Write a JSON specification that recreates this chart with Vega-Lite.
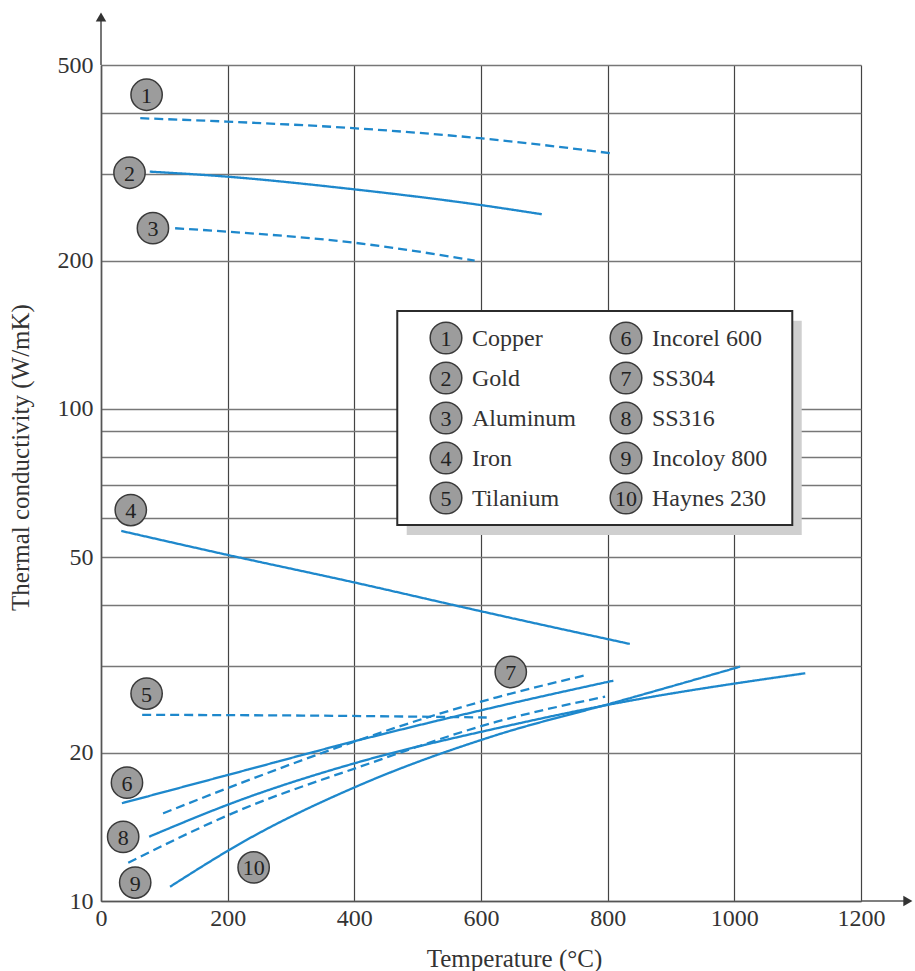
{
  "$schema": "https://vega.github.io/schema/vega-lite/v6.json",
  "width": 760,
  "height": 836,
  "autosize": {"type": "none"},
  "padding": {"left": 101, "top": 65, "right": 54, "bottom": 70},
  "background": "white",
  "config": {
    "font": "Liberation Serif",
    "view": {"stroke": null},
    "axis": {
      "labelFont": "Liberation Serif",
      "labelFontSize": 24,
      "labelColor": "#333",
      "titleFont": "Liberation Serif",
      "titleFontSize": 25,
      "titleFontWeight": "normal",
      "titleColor": "#333",
      "domainColor": "#555",
      "domainWidth": 1.6,
      "ticks": false,
      "labelFlush": false,
      "labelOverlap": false
    }
  },
  "datasets": {
    "curves": [
      {"m": "Copper", "T": 62, "k": 389.8},
      {"m": "Copper", "T": 198, "k": 383.7},
      {"m": "Copper", "T": 398, "k": 372.1},
      {"m": "Copper", "T": 598, "k": 355.0},
      {"m": "Copper", "T": 804, "k": 331.0},
      {"m": "Gold", "T": 77, "k": 303.6},
      {"m": "Gold", "T": 198, "k": 296.6},
      {"m": "Gold", "T": 398, "k": 279.6},
      {"m": "Gold", "T": 598, "k": 259.8},
      {"m": "Gold", "T": 696, "k": 248.7},
      {"m": "Aluminum", "T": 117, "k": 232.9},
      {"m": "Aluminum", "T": 198, "k": 229.3},
      {"m": "Aluminum", "T": 398, "k": 217.8},
      {"m": "Aluminum", "T": 590, "k": 200.2},
      {"m": "Iron", "T": 32, "k": 56.5},
      {"m": "Iron", "T": 200, "k": 50.5},
      {"m": "Iron", "T": 400, "k": 44.4},
      {"m": "Iron", "T": 600, "k": 38.8},
      {"m": "Iron", "T": 835, "k": 33.3},
      {"m": "Tilanium", "T": 65, "k": 23.9},
      {"m": "Tilanium", "T": 350, "k": 23.8},
      {"m": "Tilanium", "T": 609, "k": 23.6},
      {"m": "Incorel 600", "T": 33, "k": 15.8},
      {"m": "Incorel 600", "T": 220, "k": 18.32},
      {"m": "Incorel 600", "T": 398, "k": 21.08},
      {"m": "Incorel 600", "T": 625, "k": 24.83},
      {"m": "Incorel 600", "T": 809, "k": 28.04},
      {"m": "SS304", "T": 98, "k": 15.07},
      {"m": "SS304", "T": 220, "k": 17.35},
      {"m": "SS304", "T": 398, "k": 21.04},
      {"m": "SS304", "T": 520, "k": 23.71},
      {"m": "SS304", "T": 625, "k": 25.94},
      {"m": "SS304", "T": 767, "k": 28.8},
      {"m": "SS316", "T": 76, "k": 13.51},
      {"m": "SS316", "T": 220, "k": 16.04},
      {"m": "SS316", "T": 409, "k": 19.19},
      {"m": "SS316", "T": 625, "k": 22.44},
      {"m": "SS316", "T": 799, "k": 25.02},
      {"m": "SS316", "T": 1112, "k": 29.03},
      {"m": "Incoloy 800", "T": 43, "k": 11.96},
      {"m": "Incoloy 800", "T": 220, "k": 15.31},
      {"m": "Incoloy 800", "T": 409, "k": 18.75},
      {"m": "Incoloy 800", "T": 625, "k": 23.14},
      {"m": "Incoloy 800", "T": 796, "k": 26.02},
      {"m": "Haynes 230", "T": 109, "k": 10.69},
      {"m": "Haynes 230", "T": 230, "k": 13.31},
      {"m": "Haynes 230", "T": 409, "k": 17.21},
      {"m": "Haynes 230", "T": 625, "k": 21.75},
      {"m": "Haynes 230", "T": 808, "k": 25.26},
      {"m": "Haynes 230", "T": 1009, "k": 29.94}
    ],
    "tags": [
      {"num": "1", "T": 72, "k": 435},
      {"num": "2", "T": 45, "k": 302},
      {"num": "3", "T": 82, "k": 233},
      {"num": "4", "T": 47, "k": 62.3},
      {"num": "5", "T": 72, "k": 26.4},
      {"num": "6", "T": 41, "k": 17.4},
      {"num": "7", "T": 647, "k": 29.2},
      {"num": "8", "T": 35, "k": 13.5},
      {"num": "9", "T": 54, "k": 10.9},
      {"num": "10", "T": 241, "k": 11.7}
    ],
    "legend": [
      {"num": 1, "name": "Copper"},
      {"num": 2, "name": "Gold"},
      {"num": 3, "name": "Aluminum"},
      {"num": 4, "name": "Iron"},
      {"num": 5, "name": "Tilanium"},
      {"num": 6, "name": "Incorel 600"},
      {"num": 7, "name": "SS304"},
      {"num": 8, "name": "SS316"},
      {"num": 9, "name": "Incoloy 800"},
      {"num": 10, "name": "Haynes 230"}
    ],
    "one": [{}]
  },
  "layer": [
    {
      "data": {"name": "curves"},
      "mark": {"type": "line", "interpolate": "monotone", "strokeWidth": 2.3, "color": "#1e88cc"},
      "encoding": {
        "x": {
          "field": "T", "type": "quantitative",
          "scale": {"domain": [0, 1200], "nice": false, "zero": false},
          "axis": {
            "title": "Temperature (°C)",
            "values": [0, 200, 400, 600, 800, 1000, 1200],
            "format": "d",
            "grid": true, "gridColor": "#444", "gridWidth": 1.2,
            "labelPadding": 5,
            "titleX": 413, "titleY": 57, "titleBaseline": "middle", "titleAlign": "center"
          }
        },
        "y": {
          "field": "k", "type": "quantitative",
          "scale": {"type": "log", "domain": [10, 500], "nice": false},
          "axis": {
            "title": "Thermal conductivity (W/mK)",
            "values": [10, 20, 30, 40, 50, 60, 70, 80, 90, 100, 200, 300, 400, 500],
            "labelExpr": "indexof([10, 20, 50, 100, 200, 500], datum.value) >= 0 ? datum.label : ''",
            "grid": true, "gridColor": "#777", "gridWidth": 1.6,
            "labelPadding": 8,
            "titleX": -81, "titleY": 392, "titleAngle": -90, "titleBaseline": "middle", "titleAlign": "center"
          }
        },
        "detail": {"field": "m"},
        "strokeDash": {
          "field": "m", "type": "nominal", "legend": null,
          "scale": {
            "domain": ["Copper", "Gold", "Aluminum", "Iron", "Tilanium", "Incorel 600", "SS304", "SS316", "Incoloy 800", "Haynes 230"],
            "range": [[9, 5], [1, 0], [9, 5], [1, 0], [9, 5], [1, 0], [9, 5], [1, 0], [9, 5], [1, 0]]
          }
        }
      }
    },
    {
      "data": {"name": "one"},
      "mark": {"type": "rect", "fill": "#cfcfcf"},
      "encoding": {
        "x": {"datum": 482.7, "type": "quantitative", "scale": {"domain": [0, 1200], "nice": false, "zero": false}, "axis": null},
        "x2": {"datum": 1106.4},
        "y": {"datum": 151.0, "type": "quantitative", "scale": {"type": "log", "domain": [10, 500], "nice": false}, "axis": null},
        "y2": {"datum": 55.45}
      }
    },
    {
      "data": {"name": "one"},
      "mark": {"type": "rect", "fill": "white", "stroke": "#2b2b2b", "strokeWidth": 2},
      "encoding": {
        "x": {"datum": 467.8, "type": "quantitative", "scale": {"domain": [0, 1200], "nice": false, "zero": false}, "axis": null},
        "x2": {"datum": 1091.5},
        "y": {"datum": 158.2, "type": "quantitative", "scale": {"type": "log", "domain": [10, 500], "nice": false}, "axis": null},
        "y2": {"datum": 58.1}
      }
    },
    {
      "data": {"name": "one"},
      "mark": {"type": "rule", "color": "#555", "strokeWidth": 1.6},
      "encoding": {
        "x": {"datum": 1200, "type": "quantitative", "scale": {"domain": [0, 1200], "nice": false, "zero": false}, "axis": null},
        "x2": {"datum": 1276},
        "y": {"datum": 10, "type": "quantitative", "scale": {"type": "log", "domain": [10, 500], "nice": false}, "axis": null}
      }
    },
    {
      "data": {"name": "one"},
      "mark": {"type": "rule", "color": "#555", "strokeWidth": 1.6},
      "encoding": {
        "x": {"datum": 0, "type": "quantitative", "scale": {"domain": [0, 1200], "nice": false, "zero": false}, "axis": null},
        "y": {"datum": 500, "type": "quantitative", "scale": {"type": "log", "domain": [10, 500], "nice": false}, "axis": null},
        "y2": {"datum": 620}
      }
    },
    {
      "data": {"name": "one"},
      "mark": {"type": "point", "shape": "triangle-right", "filled": true, "color": "#333", "size": 110, "opacity": 1},
      "encoding": {
        "x": {"datum": 1274, "type": "quantitative", "scale": {"domain": [0, 1200], "nice": false, "zero": false}, "axis": null},
        "y": {"datum": 10, "type": "quantitative", "scale": {"type": "log", "domain": [10, 500], "nice": false}, "axis": null}
      }
    },
    {
      "data": {"name": "one"},
      "mark": {"type": "point", "shape": "triangle-up", "filled": true, "color": "#333", "size": 110, "opacity": 1},
      "encoding": {
        "x": {"datum": 0, "type": "quantitative", "scale": {"domain": [0, 1200], "nice": false, "zero": false}, "axis": null},
        "y": {"datum": 626, "type": "quantitative", "scale": {"type": "log", "domain": [10, 500], "nice": false}, "axis": null}
      }
    },
    {
      "data": {"name": "tags"},
      "mark": {"type": "point", "shape": "circle", "filled": true, "fill": "#9c9c9c", "stroke": "#3a3a3a", "strokeWidth": 1.5, "size": 980, "opacity": 1},
      "encoding": {
        "x": {"field": "T", "type": "quantitative", "scale": {"domain": [0, 1200], "nice": false, "zero": false}, "axis": null},
        "y": {"field": "k", "type": "quantitative", "scale": {"type": "log", "domain": [10, 500], "nice": false}, "axis": null}
      }
    },
    {
      "data": {"name": "tags"},
      "mark": {"type": "text", "font": "Liberation Serif", "fontSize": 22, "color": "#222", "align": "center", "baseline": "middle", "dy": 1},
      "encoding": {
        "x": {"field": "T", "type": "quantitative", "scale": {"domain": [0, 1200], "nice": false, "zero": false}, "axis": null},
        "y": {"field": "k", "type": "quantitative", "scale": {"type": "log", "domain": [10, 500], "nice": false}, "axis": null},
        "text": {"field": "num"}
      }
    },
    {
      "data": {"name": "legend"},
      "transform": [
        {"calculate": "datum.num > 5 ? 1 : 0", "as": "col"},
        {"calculate": "(datum.num - 1) % 5", "as": "row"}
      ],
      "mark": {"type": "point", "shape": "circle", "filled": true, "fill": "#9c9c9c", "stroke": "#3a3a3a", "strokeWidth": 1.5, "size": 1000, "opacity": 1},
      "encoding": {
        "x": {"field": "col", "type": "ordinal", "scale": {"type": "point", "domain": [0, 1], "range": [345, 525], "padding": 0}, "axis": null},
        "y": {"field": "row", "type": "ordinal", "scale": {"type": "point", "domain": [0, 1, 2, 3, 4], "range": [273, 433], "padding": 0}, "axis": null}
      }
    },
    {
      "data": {"name": "legend"},
      "transform": [
        {"calculate": "datum.num > 5 ? 1 : 0", "as": "col"},
        {"calculate": "(datum.num - 1) % 5", "as": "row"}
      ],
      "mark": {"type": "text", "font": "Liberation Serif", "fontSize": 22, "color": "#222", "align": "center", "baseline": "middle", "dy": 1},
      "encoding": {
        "x": {"field": "col", "type": "ordinal", "scale": {"type": "point", "domain": [0, 1], "range": [345, 525], "padding": 0}, "axis": null},
        "y": {"field": "row", "type": "ordinal", "scale": {"type": "point", "domain": [0, 1, 2, 3, 4], "range": [273, 433], "padding": 0}, "axis": null},
        "text": {"field": "num", "type": "nominal"}
      }
    },
    {
      "data": {"name": "legend"},
      "transform": [
        {"calculate": "datum.num > 5 ? 1 : 0", "as": "col"},
        {"calculate": "(datum.num - 1) % 5", "as": "row"}
      ],
      "mark": {"type": "text", "font": "Liberation Serif", "fontSize": 24, "color": "#333", "align": "left", "baseline": "middle", "dx": 26, "dy": 1},
      "encoding": {
        "x": {"field": "col", "type": "ordinal", "scale": {"type": "point", "domain": [0, 1], "range": [345, 525], "padding": 0}, "axis": null},
        "y": {"field": "row", "type": "ordinal", "scale": {"type": "point", "domain": [0, 1, 2, 3, 4], "range": [273, 433], "padding": 0}, "axis": null},
        "text": {"field": "name", "type": "nominal"}
      }
    }
  ],
  "resolve": {"scale": {"x": "independent", "y": "independent"}}
}
